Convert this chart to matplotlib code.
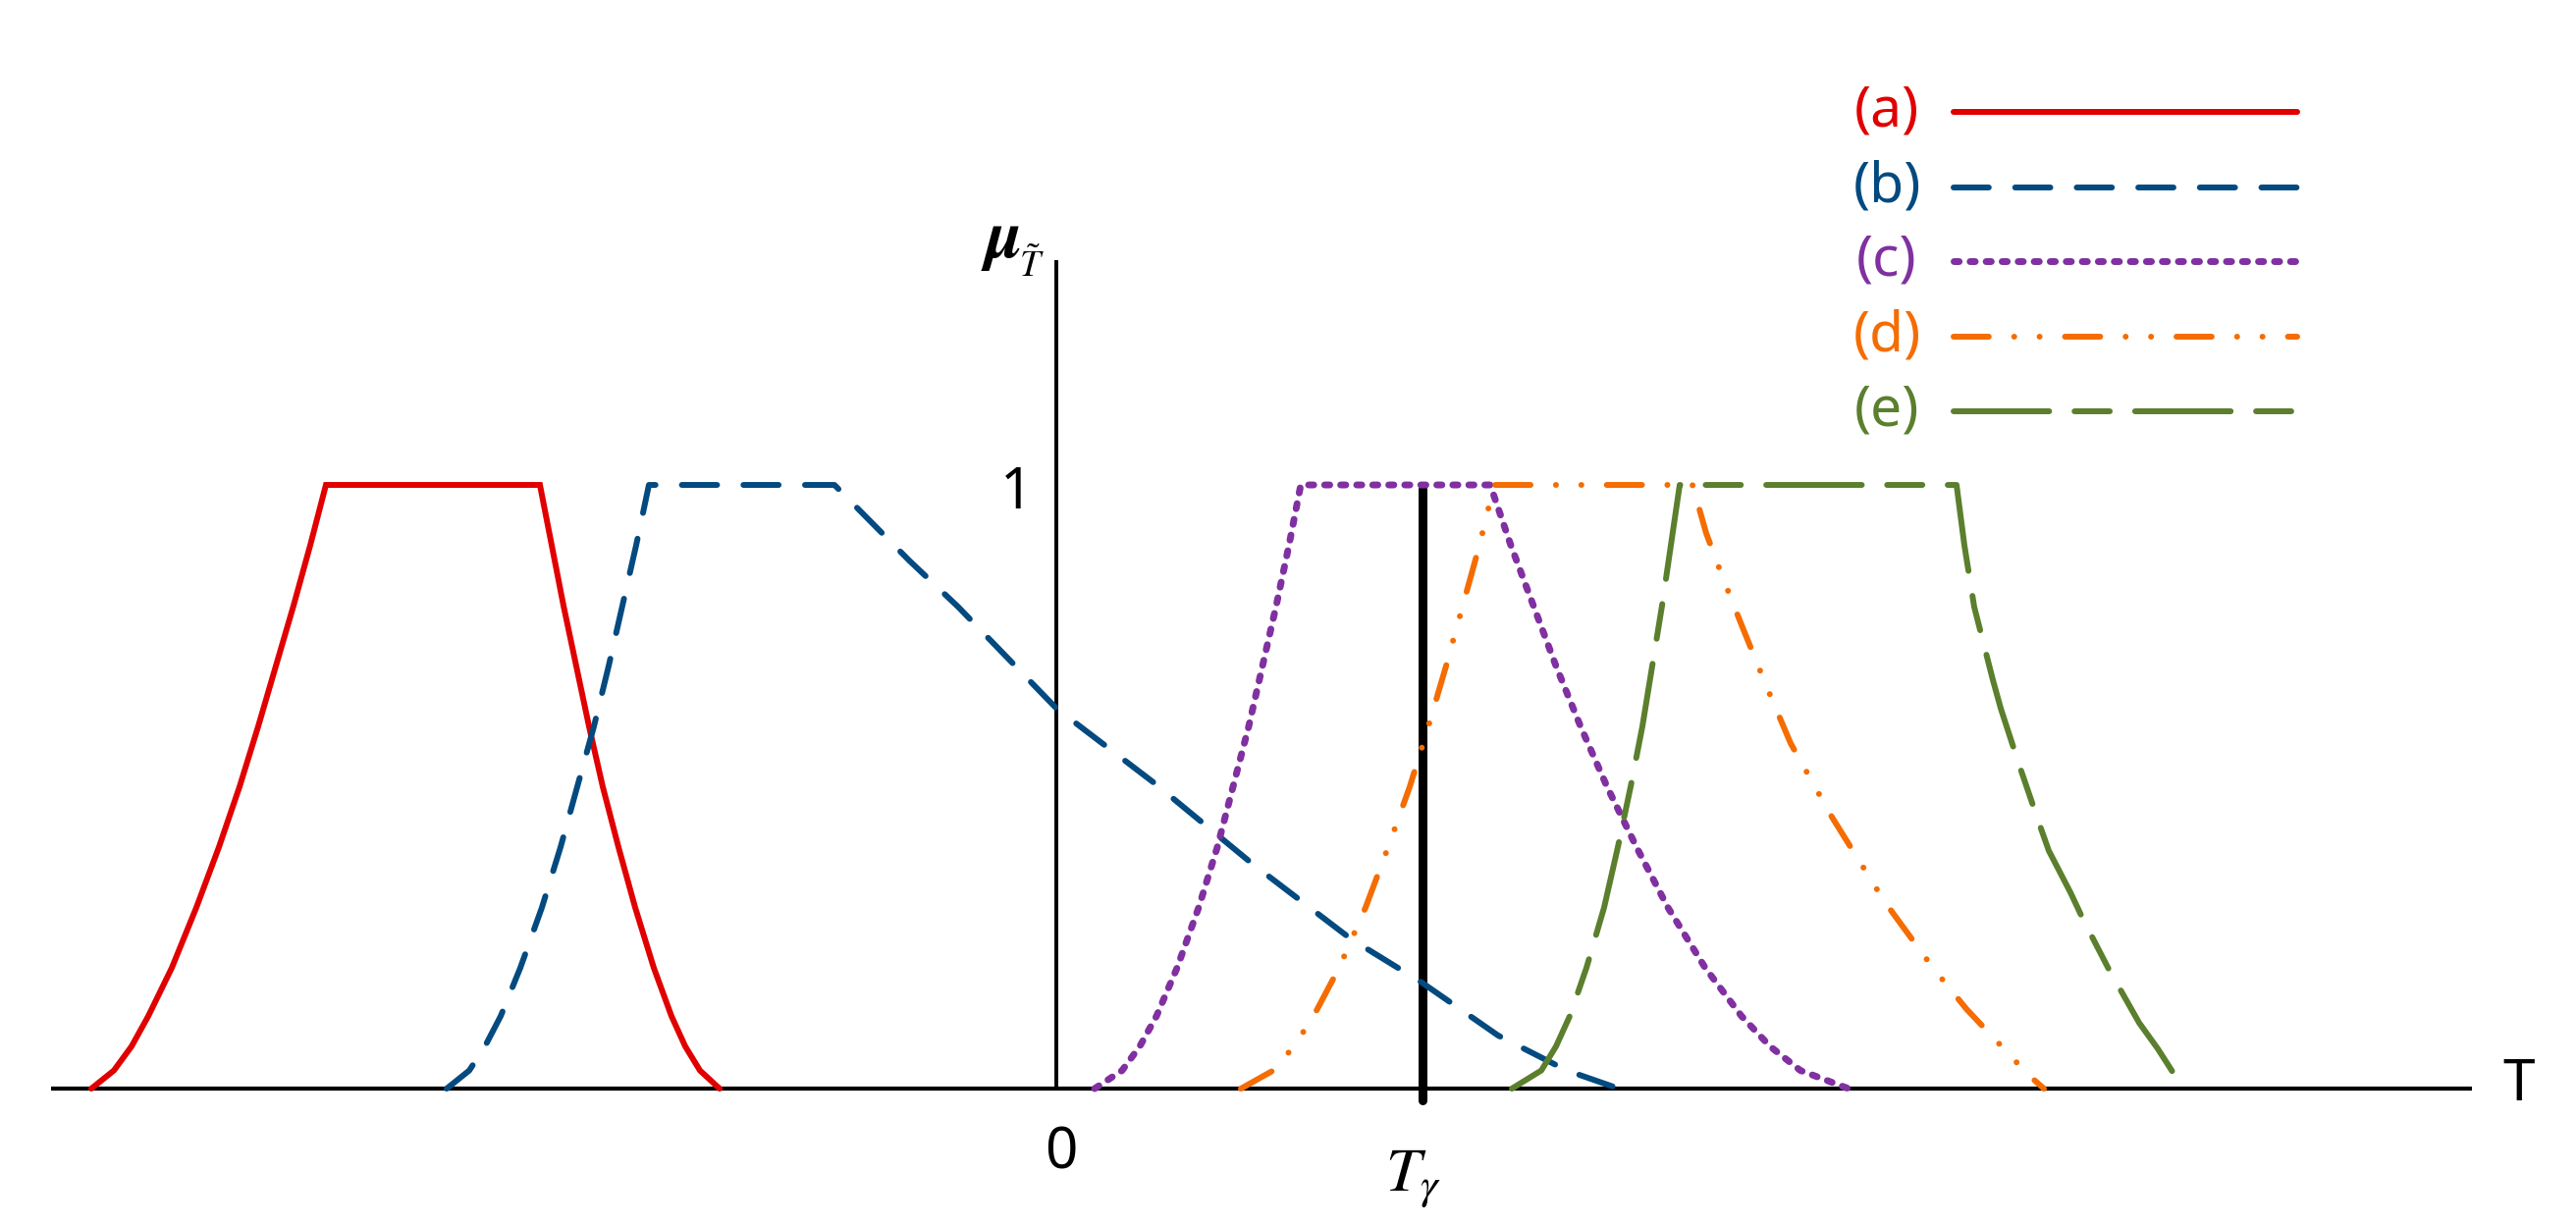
import matplotlib
matplotlib.use("Agg")
import matplotlib.pyplot as plt

plt.rcParams["font.family"] = ["Noto Sans", "DejaVu Sans"]
plt.rcParams["mathtext.fontset"] = "stix"

# membership curves, values (T, mu)
a_T = [-9.83, -9.60, -9.42, -9.25, -9.01, -8.76, -8.53, -8.32, -8.13, -7.95, -7.77, -7.60, -7.44,
       -5.26, -5.14, -5.02, -4.89, -4.76, -4.62, -4.46, -4.29, -4.10, -3.92, -3.78, -3.63, -3.43]
a_mu = [0, .03, .07, .12, .2, .3, .4, .5, .6, .7, .8, .9, 1,
        1, .9, .8, .7, .6, .5, .4, .3, .2, .12, .07, .03, 0]

b_T = [-6.21, -5.98, -5.82, -5.66, -5.46, -5.24, -5.05, -4.88, -4.71, -4.56, -4.42, -4.28, -4.15,
       -2.26, -1.5, -1.0, 0.0, 1.0, 2.0, 3.0, 3.73, 4.5, 5.2, 5.73]
b_mu = [0, .03, .07, .12, .2, .3, .4, .5, .6, .7, .8, .9, 1,
        1, .875, .798, .63, .506, .372, .248, .175, .088, .03, 0]

c_T = [0.39, 0.67, 0.85, 1.02, 1.23, 1.45, 1.64, 1.80, 1.96, 2.10, 2.24, 2.37, 2.49,
       4.42, 4.63, 4.86, 5.09, 5.34, 5.61, 5.91, 6.23, 6.61, 6.98, 7.27, 7.58, 8.07]
c_mu = [0, .03, .07, .12, .2, .3, .4, .5, .6, .7, .8, .9, 1,
        1, .9, .8, .7, .6, .5, .4, .3, .2, .12, .07, .03, 0]

d_T = [1.88, 2.21, 2.42, 2.62, 2.88, 3.15, 3.38, 3.60, 3.79, 3.97, 4.14, 4.31, 4.46,
       6.48, 6.62, 6.78, 7.0, 7.24, 7.48, 7.90, 8.44, 8.93, 9.27, 9.60, 9.90, 10.06]
d_mu = [0, .03, .07, .12, .2, .3, .4, .5, .6, .7, .8, .9, 1,
        1, .92, .85, .76, .664, .572, .45, .309, .2, .132, .075, .023, 0]

e_T = [4.64, 4.94, 5.09, 5.23, 5.40, 5.58, 5.72, 5.85, 5.97, 6.07, 6.17, 6.26, 6.35,
       9.17, 9.25, 9.35, 9.54, 9.62, 9.80, 10.01, 10.11, 10.33, 10.46, 10.72, 11.03, 11.22, 11.48]
e_mu = [0, .03, .07, .12, .2, .3, .4, .5, .6, .7, .8, .9, 1,
        1, .9, .798, .677, .63, .54, .44, .394, .325, .28, .198, .109, .066, 0]

T_gamma = 3.73
labels = ["(a)", "(b)", "(c)", "(d)", "(e)"]
colors = ["#e10000", "#034a80", "#8030a0", "#f56c00", "#5b7f2d"]
widths = [4.3, 4.3, 5.0, 4.3, 4.3]
dashes = [None, (6.0, 4.5), (0.75, 1.6), (6.0, 4.33, 0.01, 4.33, 0.01, 4.33), (16.3, 4.33, 6.0, 4.33)]

fig = plt.figure(figsize=(26.24, 12.49), dpi=100)
ax = fig.add_axes([0, 0, 1, 1])
ax.set_xlim(-10.76, 15.48)
ax.set_ylim(-0.2276, 1.8033)
ax.axis("off")

# axes
ax.plot([-10.24, 14.42], [0, 0], color="black", lw=3.0, solid_capstyle="butt", zorder=1)
ax.plot([0, 0], [0, 1.372], color="black", lw=2.8, solid_capstyle="butt", zorder=1)
ax.plot([T_gamma, T_gamma], [-0.02, 0.993], color="black", lw=6.5,
        solid_capstyle="round", zorder=2)

series = [(a_T, a_mu), (b_T, b_mu), (c_T, c_mu), (d_T, d_mu), (e_T, e_mu)]
for (xs, ys), col, w, ds in zip(series, colors, widths, dashes):
    line, = ax.plot(xs, ys, color=col, lw=w, solid_capstyle="round",
                    dash_capstyle="round", solid_joinstyle="miter", zorder=3)
    if ds is not None:
        line.set_dashes(ds)

# legend
row_y = [114, 191, 266, 343, 419]
for lab, col, w, ds, y in zip(labels, colors, widths, dashes, row_y):
    yf = 1 - y / 1249
    fig.text(1922 / 2624, yf, lab, color=col, fontsize=41, ha="center", va="center")
    ln, = ax.plot([1990 / 2624, 2340 / 2624], [yf, yf], color=col, lw=w,
                  transform=fig.transFigure, solid_capstyle="round", dash_capstyle="round")
    if ds is not None:
        ln.set_dashes(ds)

# labels
ax.text(0.05, -0.107, "0", fontsize=42, ha="center", va="center")
ax.text(-0.41, 0.987, "1", fontsize=42, ha="center", va="center")
ax.text(14.90, 0.005, "T", fontsize=42, ha="center", va="center")
ax.text(3.64, -0.15, r"$T_{\gamma}$", fontsize=46, ha="center", va="center")
ax.text(-0.35, (1109 - 262) / 615, "\u03bc", family="STIXGeneral", style="italic",
        weight="bold", fontsize=50, ha="right", va="baseline")
ax.text(-0.38, (1109 - 282) / 615, r"$\tilde{T}$", fontsize=27, ha="left", va="baseline")

fig.savefig("out.png", dpi=100)
